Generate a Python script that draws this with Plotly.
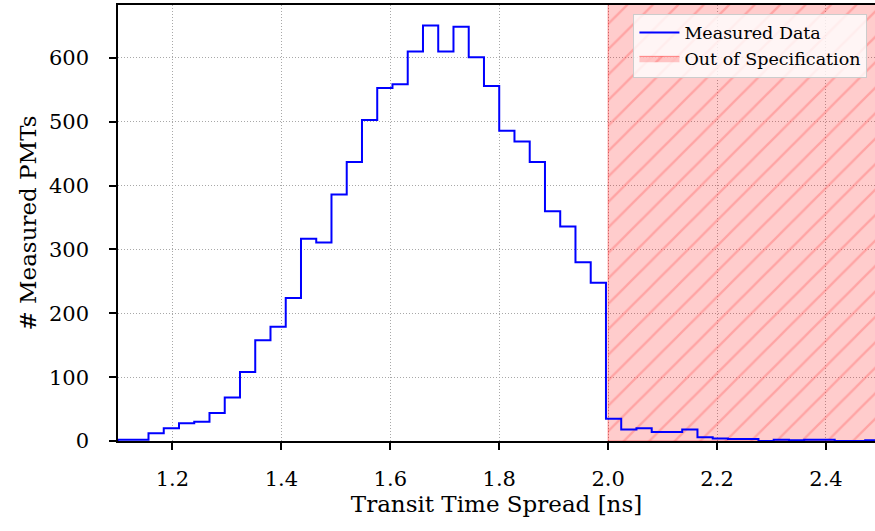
import plotly.graph_objects as go

# ---- data ----
bin_start = 1.1
bin_width = 0.028
counts = [2, 2, 12, 20, 28, 30, 44, 68, 108, 158, 179, 224, 317, 311, 386, 437,
          503, 553, 559, 610, 651, 610, 649, 601, 556, 486, 469, 437, 360, 336,
          280, 248, 35, 18, 20, 14, 14, 18, 6, 4, 3, 3, 0, 2, 1, 2, 2, 0, 0, 1]
spec_limit = 2.0
spec_upper = 2.6
x_ticks = [1.2, 1.4, 1.6, 1.8, 2.0, 2.2, 2.4]
y_ticks = [0, 100, 200, 300, 400, 500, 600]

edges = [round(bin_start + k * bin_width, 6) for k in range(len(counts) + 1)]
step_x = [edges[0]] + edges
step_y = [0] + counts + [counts[-1]]

FONT = "DejaVu Serif"

fig = go.Figure()

# out-of-spec region (hatched)
fig.add_trace(go.Scatter(
    x=[spec_limit, spec_upper, spec_upper, spec_limit, spec_limit],
    y=[0, 0, 1000, 1000, 0],
    mode="lines",
    fill="toself",
    fillcolor="rgba(255,0,0,0.2)",
    fillpattern=dict(shape="/", bgcolor="rgba(255,0,0,0.2)",
                     fgcolor="rgba(255,80,80,0.32)", size=18, solidity=0.13,
                     fillmode="replace"),
    line=dict(color="rgba(255,0,0,0.4)", width=1),
    name="Out of Specification",
    hoverinfo="skip",
))

# measured data step histogram
fig.add_trace(go.Scatter(
    x=step_x, y=step_y,
    mode="lines",
    line=dict(color="#0000ff", width=2, shape="hv"),
    name="Measured Data",
))

fig.update_layout(
    width=875, height=531,
    margin=dict(l=118, r=0, t=5, b=90, autoexpand=False),
    plot_bgcolor="white",
    paper_bgcolor="white",
    font=dict(family=FONT, size=21, color="black"),
    showlegend=True,
    legend=dict(
        x=0.99, y=0.98, xanchor="right", yanchor="top",
        bgcolor="rgba(255,255,255,0.8)",
        bordercolor="#cccccc", borderwidth=1,
        font=dict(family=FONT, size=17.5),
        traceorder="reversed",
        itemwidth=40,
        tracegroupgap=0,
    ),
)

fig.update_xaxes(
    range=[1.1, 2.49],
    tickvals=x_ticks,
    tickformat=".1f",
    ticks="outside", ticklen=7, tickwidth=1.5, tickcolor="black",
    showline=True, linecolor="black", linewidth=1.6, mirror=True,
    showgrid=True, gridcolor="#a8a8a8", griddash="1px,2px", gridwidth=1,
    zeroline=False, automargin=False,
    ticklabelstandoff=11,
    title=dict(text="Transit Time Spread [ns]", font=dict(size=23), standoff=0),
    tickfont=dict(size=21),
)
fig.update_yaxes(
    range=[0, 683],
    tickvals=y_ticks,
    ticks="outside", ticklen=7, tickwidth=1.5, tickcolor="black",
    showline=True, linecolor="black", linewidth=1.6,
    showgrid=True, gridcolor="#a8a8a8", griddash="1px,2px", gridwidth=1,
    zeroline=False, automargin=False,
    ticklabelstandoff=16,
    title=dict(text="# Measured PMTs", font=dict(size=23), standoff=6),
    tickfont=dict(size=21),
)

fig.write_html(
    "out.html",
    config={"displayModeBar": False},
    post_script="document.body.style.margin='0';document.body.style.padding='0';",
)
